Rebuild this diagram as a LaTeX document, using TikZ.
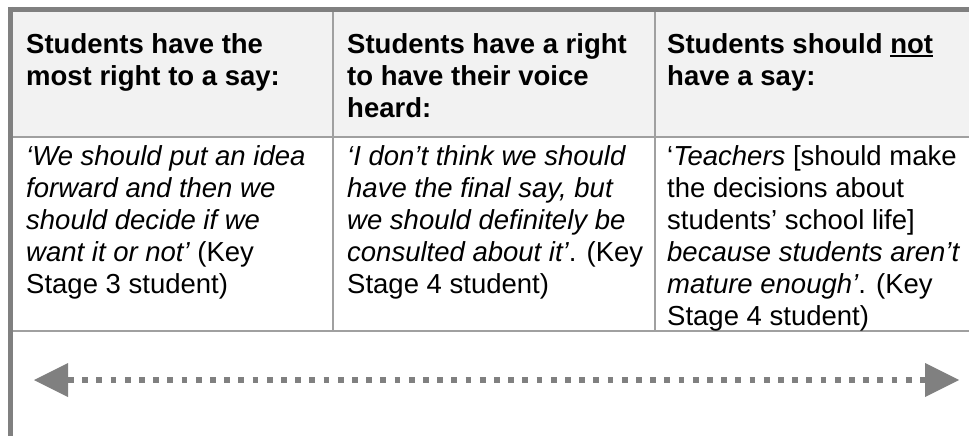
\documentclass[tikz,border=0pt]{standalone}
\usepackage{fontspec}
\setmainfont{Liberation Sans}
\usetikzlibrary{arrows.meta}
\definecolor{rulegray}{HTML}{808080}
\definecolor{linegray}{HTML}{A0A0A0}
\definecolor{headfill}{HTML}{F2F2F2}
\newcommand{\cellfont}{\fontsize{27.5}{32}\selectfont}
\newcommand{\ulword}[1]{\setbox0\hbox{#1}\rlap{\rule[-3.6pt]{\wd0}{2pt}}#1}

\begin{document}
\begin{tikzpicture}[x=1pt, y=-1pt,
        cell/.style={anchor=north west, inner sep=0pt, align=left, font=\cellfont},
        head/.style={cell, font=\cellfont\bfseries},
        thinrule/.style={linegray, line width=1.5pt},
        thickrule/.style={rulegray, line width=4.8pt},
        spread/.style={rulegray, line width=5.5pt, dash pattern=on 5.7pt off 8.5pt,
            {Triangle[width=34pt, length=34pt, line width=0pt]}-{Triangle[width=34pt, length=34pt, line width=0pt]}}]
        \useasboundingbox (0,0) rectangle (969,436);
        \fill[white] (0,0) rectangle (969,436);
        \fill[headfill] (13,12) rectangle (969,137);

        \draw[thinrule] (13,137) -- (969,137);
        \draw[thinrule] (13,331) -- (969,331);
        \draw[thinrule] (333,12) -- (333,331);
        \draw[thinrule] (655,12) -- (655,331);
        \draw[thickrule] (8,9.3) -- (969,9.3);
        \draw[thickrule] (10.8,7) -- (10.8,436);

        \node[head] (h1) at (26, 30.6) {\strut Students have the\\most right to a say:};
        \node[head] (h2) at (347, 30.6) {\strut Students have a right\\to have their voice\\heard:};
        \node[head] (h3) at (667, 30.6) {\strut Students should \ulword{not}\\have a say:};

        \node[cell] (q1) at (26, 142.6) {\strut{\itshape ‘We should put an idea}\\{\itshape forward and then we}\\{\itshape should decide if we}\\{\itshape want it or not’} (Key\\Stage 3 student)};
        \node[cell] (q2) at (347, 142.6) {\strut{\itshape ‘I don’t think we should}\\{\itshape have the final say, but}\\{\itshape we should definitely be}\\{\itshape consulted about it’}. (Key\\Stage 4 student)};
        \node[cell] (q3) at (667, 142.6) {\strut‘{\itshape Teachers} [should make\\the decisions about\\students’ school life]\\{\itshape because students aren’t}\\{\itshape mature enough’}. (Key\\Stage 4 student)};

        \coordinate (lefttip) at (34, 380);
        \coordinate (righttip) at (959, 380);
        \draw[spread] (lefttip) -- (righttip);
    \end{tikzpicture}
\end{document}
